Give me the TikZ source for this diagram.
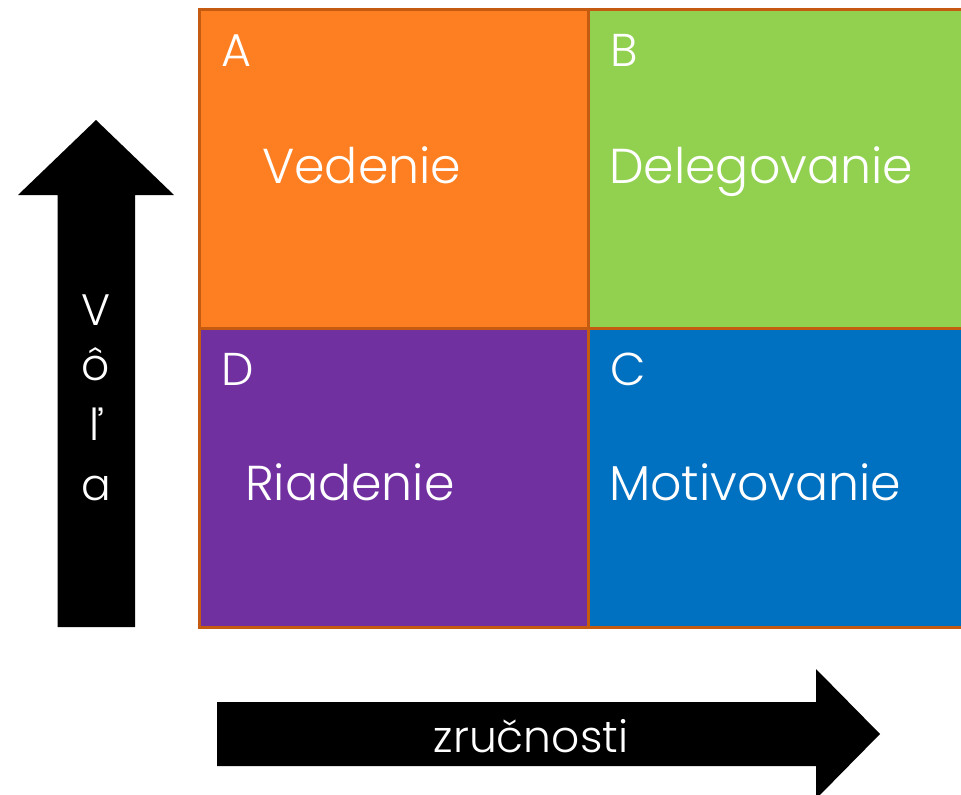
\documentclass[tikz,border=0pt]{standalone}
\usepackage{fontspec}
\setmainfont{Poppins}[UprightFont={* Light}]
\definecolor{cellborder}{HTML}{C55A11}
\definecolor{corange}{HTML}{FD7F22}
\definecolor{cgreen}{HTML}{92D050}
\definecolor{cpurple}{HTML}{7030A0}
\definecolor{cblue}{HTML}{0070C0}
\begin{document}
\begin{tikzpicture}[x=1pt,y=-1pt,
  cell/.style={draw=cellborder, line width=3pt},
  lbl/.style={text=white, anchor=base west, inner sep=0pt, font=\fontsize{46}{54}\selectfont},
  word/.style={text=white, anchor=base west, inner sep=0pt, font=\fontsize{49}{58}\selectfont},
  axis/.style={text=white, anchor=base, inner sep=0pt, font=\fontsize{44}{52}\selectfont},
  arrowshape/.style={fill=black}]
\useasboundingbox (0,0) rectangle (961,795);
\clip (0,0) rectangle (961,795);
\fill[white] (0,0) rectangle (961,795);
% cells
\filldraw[cell, fill=corange] (199,9) rectangle (588,328);
\filldraw[cell, fill=cgreen] (588,9) rectangle (975,328);
\filldraw[cell, fill=cpurple] (199,328) rectangle (588,627);
\filldraw[cell, fill=cblue] (588,328) rectangle (975,627);
% labels
\node[lbl] (la) at (221,66) {A};
\node[word] (wa) at (262,183) {Vedenie};
\node[lbl] (lb) at (610,66) {B};
\node[word] (wb) at (609,183) {Delegovanie};
\node[lbl] (ld) at (221,385) {D};
\node[word] (wd) at (245,500) {Riadenie};
\node[lbl] (lc) at (610,385) {C};
\node[word] (wc) at (609,500) {Motivovanie};
% vertical arrow
\fill[arrowshape] (57.5,627) -- (57.5,195) -- (18,195) -- (96,120) -- (174,195) -- (135,195) -- (135,627) -- cycle;
\node[axis] (v1) at (96,325) {V};
\node[axis] (v2) at (96,380) {ô};
\node[axis] (v3) at (96,440) {ľ};
\node[axis] (v4) at (96,500) {a};
% horizontal arrow
\fill[arrowshape] (217,702) -- (816,702) -- (816,669) -- (880,734) -- (816,799) -- (816,766) -- (217,766) -- cycle;
\node[axis] (h1) at (531,752) {zručnosti};
\end{tikzpicture}
\end{document}
